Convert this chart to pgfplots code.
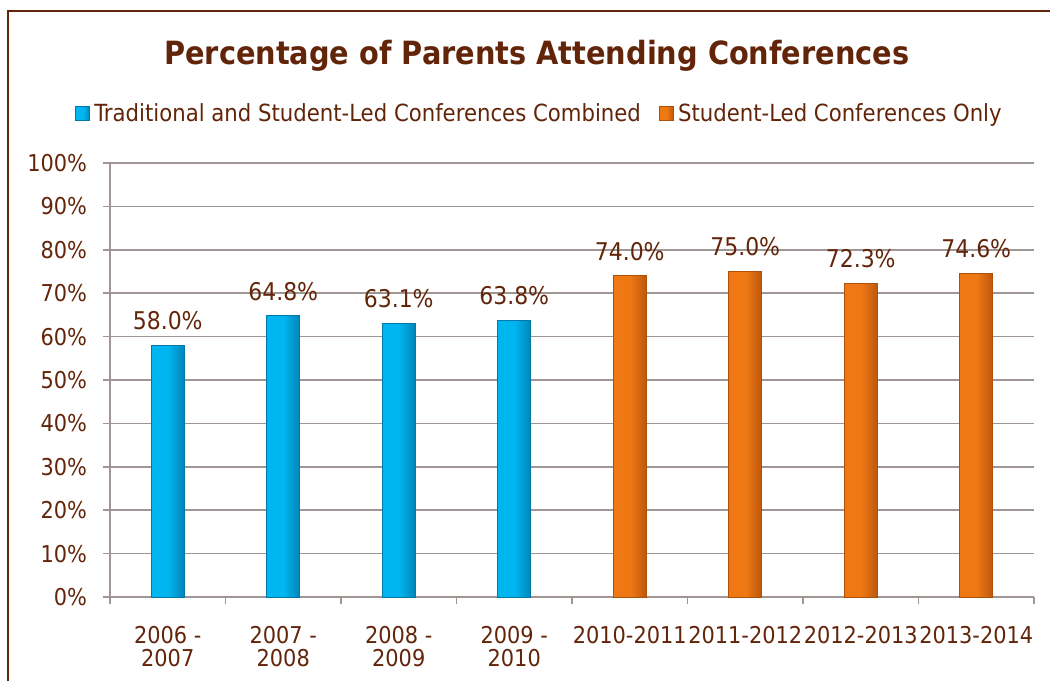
\documentclass[border=0pt]{standalone}
\usepackage{pgfplots}
\pgfplotsset{compat=1.18}
\usepackage{fontspec}
\setmainfont{DejaVu Sans Condensed}
\definecolor{txt}{RGB}{99,37,10}
\definecolor{gridc}{RGB}{160,150,148}
\definecolor{cyanbar}{RGB}{0,182,240}
\definecolor{cyanedge}{RGB}{0,120,170}
\definecolor{orbar}{RGB}{240,120,20}
\definecolor{oredge}{RGB}{175,80,10}
\pgfplotsset{
  bluebar/.style={ybar, bar width=16.5pt, bar shift=0pt, left color=cyanbar, right color=cyanedge!80!cyanbar, middle color=cyanbar, draw=cyanedge, line width=0.5pt},
  orbarst/.style={ybar, bar width=16.5pt, bar shift=0pt, left color=orbar, right color=oredge!80!orbar, middle color=orbar, draw=oredge, line width=0.5pt},
}
\begin{document}
\begin{tikzpicture}
\path[use as bounding box] (0,0) rectangle (525pt,340.5pt);
\draw[txt, line width=0.8pt] (4pt,0) -- (4pt,335pt) -- (525pt,335pt);
\begin{axis}[
  at={(55pt,42pt)}, anchor=south west,
  scale only axis, width=462pt, height=217pt,
  xmin=-0.5, xmax=7.5, ymin=0, ymax=100,
  axis x line*=bottom, axis y line*=left,
  axis line style={gridc, line width=0.8pt},
  ymajorgrids, grid style={gridc, line width=0.8pt},
  ytick={0,10,...,100},
  yticklabel={\pgfmathprintnumber{\tick}\%},
  /pgf/number format/assume math mode=true,
  xtick={-0.5,0.5,...,7.5},
  x tick label as interval,
  xticklabels={{2006 -\\2007},{2007 -\\2008},{2008 -\\2009},{2009 -\\2010},2010-2011,2011-2012,2012-2013,2013-2014},
  tick align=outside, major tick length=3.5pt,
  tick style={gridc, line width=0.8pt},
  ticklabel style={font=\fontsize{11.6}{11.6}\selectfont, text=txt},
  y tick label style={xshift=-4.5pt},
  x tick label style={align=center, yshift=-7.5pt},
  every axis title shift=0pt,
  title={Percentage of Parents Attending Conferences},
  title style={at={(axis description cs:0.462,1.247)}, anchor=center, font=\bfseries\fontsize{16}{19}\selectfont, text=txt},
  legend style={draw=none, at={(axis description cs:0.466,1.113)}, anchor=center, legend columns=2, font=\fontsize{11.8}{13}\selectfont, text=txt, /tikz/every even column/.append style={column sep=7pt}},
  legend image code/.code={\draw[#1] (0pt,-3.5pt) rectangle (7pt,3.5pt);},
  nodes near coords={\pgfmathprintnumber[fixed,fixed zerofill,precision=1]{\pgfplotspointmeta}\%},
  nodes near coords style={font=\fontsize{12.2}{13}\selectfont, text=txt, yshift=4pt},
]
\addplot[bluebar] coordinates {(0,58.0)};
\addlegendentry{Traditional and Student-Led Conferences Combined}
\addplot[bluebar, forget plot] coordinates {(1,64.8)};
\addplot[bluebar, forget plot] coordinates {(2,63.1)};
\addplot[bluebar, forget plot] coordinates {(3,63.8)};
\addplot[orbarst] coordinates {(4,74.0)};
\addlegendentry{Student-Led Conferences Only}
\addplot[orbarst, forget plot] coordinates {(5,75.0)};
\addplot[orbarst, forget plot] coordinates {(6,72.3)};
\addplot[orbarst, forget plot] coordinates {(7,74.6)};
\end{axis}
\end{tikzpicture}
\end{document}
